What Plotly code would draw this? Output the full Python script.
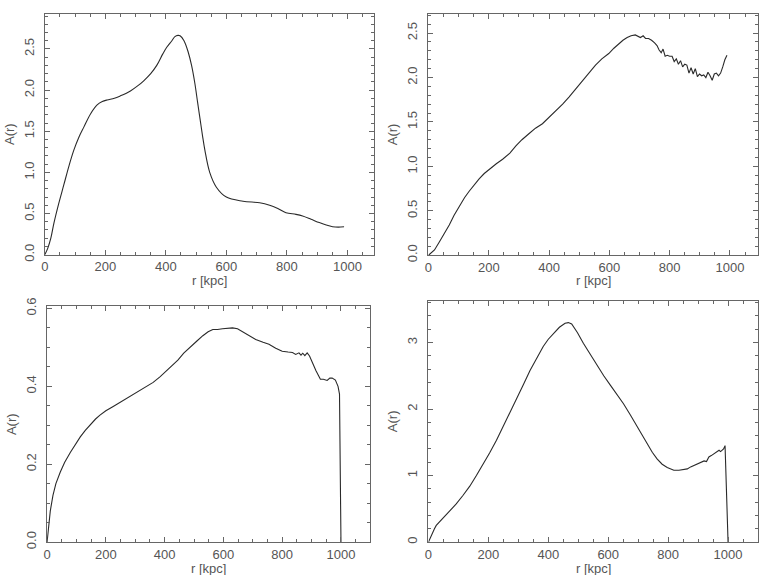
import plotly.graph_objects as go

# Panel 1 (top-left)
r1 = [0, 10, 20, 30, 46, 63, 80, 96, 113, 129, 151, 173, 190, 206, 230, 250, 283, 310, 326, 350,
      370, 390, 403, 420, 430, 440, 447, 460, 474, 485, 496, 505, 513, 521, 529, 545, 567, 600, 655, 710,
      743, 770, 797, 830, 852, 880, 907, 930, 951, 970, 989]
a1 = [0, 0.08, 0.2, 0.38, 0.62, 0.85, 1.08, 1.27, 1.43, 1.55, 1.71, 1.82, 1.86, 1.88, 1.9, 1.93, 1.99, 2.06, 2.11, 2.2,
      2.3, 2.44, 2.52, 2.6, 2.65, 2.665, 2.66, 2.6, 2.46, 2.3, 2.08, 1.85, 1.65, 1.45, 1.27, 1.0, 0.82, 0.7, 0.65, 0.63,
      0.6, 0.56, 0.51, 0.49, 0.47, 0.43, 0.39, 0.36, 0.34, 0.335, 0.34]

# Panel 2 (top-right)
r2 = [0, 20, 36, 50, 69, 85, 102, 120, 135, 150, 168, 185, 202, 225, 246, 270, 290, 310, 334, 355,
      378, 400, 422, 445, 466, 490, 510, 530, 554, 575, 598, 615, 631, 645, 659, 672, 686, 695, 703, 712,
      720, 730, 740, 750, 758, 765, 772, 778, 785, 792, 800, 808, 815, 822, 829, 836, 843, 850, 857, 864,
      871, 878, 885, 892, 899, 906, 913, 920, 927, 934, 941, 948, 955, 962, 969, 976, 983, 990]
a2 = [0, 0.06, 0.15, 0.23, 0.34, 0.45, 0.55, 0.65, 0.72, 0.79, 0.86, 0.92, 0.97, 1.03, 1.08, 1.15, 1.23, 1.30, 1.37, 1.43,
      1.48, 1.55, 1.62, 1.70, 1.78, 1.88, 1.96, 2.05, 2.14, 2.21, 2.27, 2.33, 2.38, 2.42, 2.45, 2.47, 2.48, 2.46, 2.45, 2.47,
      2.44, 2.44, 2.42, 2.39, 2.36, 2.31, 2.28, 2.32, 2.24, 2.25, 2.24, 2.24, 2.18, 2.21, 2.15, 2.19, 2.12, 2.15, 2.14, 2.05,
      2.11, 2.04, 2.10, 2.01, 2.04, 2.02, 2.03, 2.00, 2.06, 2.02, 1.97, 2.04, 2.05, 2.02, 2.05, 2.12, 2.20, 2.25]

# Panel 3 (bottom-left)
r3 = [0, 5, 11, 20, 30, 45, 60, 79, 95, 113, 130, 147, 165, 180, 200, 225, 250, 271, 290, 316,
      340, 361, 385, 406, 425, 445, 465, 485, 508, 530, 548, 564, 580, 597, 615, 631, 648, 665, 690, 710,
      735, 755, 778, 800, 820, 835, 846, 857, 864, 870, 877, 885, 893, 902, 915, 930, 940, 953, 962, 970,
      981, 990, 995, 1000]
a3 = [0, 0.04, 0.08, 0.12, 0.15, 0.18, 0.205, 0.23, 0.25, 0.27, 0.287, 0.302, 0.316, 0.326, 0.337, 0.348, 0.359, 0.369, 0.378, 0.39,
      0.40, 0.41, 0.425, 0.44, 0.452, 0.467, 0.485, 0.50, 0.515, 0.53, 0.54, 0.546, 0.546, 0.548, 0.55, 0.55, 0.548, 0.54, 0.53, 0.52,
      0.513, 0.508, 0.498, 0.49, 0.488, 0.487, 0.482, 0.486, 0.48, 0.485, 0.479, 0.486, 0.478, 0.462, 0.44, 0.418, 0.418, 0.415, 0.421, 0.421,
      0.416, 0.40, 0.38, 0.0]

# Panel 4 (bottom-right)
r4 = [0, 8, 15, 20, 26, 45, 70, 92, 115, 138, 160, 182, 204, 227, 249, 272, 294, 317, 339, 361,
      383, 400, 417, 437, 456, 467, 478, 497, 517, 540, 562, 585, 607, 630, 651, 674, 696, 713, 730, 747,
      763, 780, 797, 808, 819, 836, 853, 864, 875, 886, 897, 908, 920, 928, 936, 944, 953, 961, 970, 975,
      980, 985, 990, 1000]
a4 = [0, 0.09, 0.16, 0.20, 0.25, 0.34, 0.46, 0.57, 0.70, 0.84, 1.00, 1.16, 1.34, 1.53, 1.73, 1.95, 2.16, 2.37, 2.58, 2.77,
      2.94, 3.05, 3.14, 3.23, 3.29, 3.30, 3.28, 3.15, 2.99, 2.82, 2.65, 2.50, 2.36, 2.22, 2.08, 1.91, 1.74, 1.60, 1.47, 1.35,
      1.25, 1.17, 1.12, 1.10, 1.08, 1.08, 1.09, 1.10, 1.13, 1.15, 1.18, 1.19, 1.22, 1.21, 1.28, 1.30, 1.33, 1.36, 1.38, 1.36,
      1.38, 1.40, 1.45, 0.0]

x_title = "r [kpc]"
y_title = "A(r)"

W, H = 762, 575
# pixel boxes: left, right, top, bottom
boxes = [(41, 372, 4.7, 252.7), (426.7, 758, 4.7, 253.3), (43.3, 368.3, 306, 548.3), (426.7, 758, 300, 548.3)]
xranges = [[0, 1088], [0, 1093], [0, 1100], [0, 1100]]
yranges = [[0, 2.93], [0, 2.72], [0, 0.605], [0, 3.63]]
ydt = [(0.5, 0.1, ".1f"), (0.5, 0.1, ".1f"), (0.2, 0.05, ".1f"), (1, 0.2, "d")]
series = [(r1, a1, "spline"), (r2, a2, "linear"), (r3, a3, "linear"), (r4, a4, "linear")]
xtitle_y = [279, 279, 575, 575]  # pixel centre of x-axis titles

AX = "#666666"
FONT = dict(family="Liberation Sans, Arial, sans-serif", size=13, color="#555555")

fig = go.Figure()
layout = dict(width=W, height=H, margin=dict(l=0, r=0, t=0, b=0),
              paper_bgcolor="white", plot_bgcolor="white", showlegend=False, font=FONT)
annotations = []

for i, ((l, r, t, b), (xs, ys, shape)) in enumerate(zip(boxes, series)):
    n = "" if i == 0 else str(i + 1)
    fig.add_trace(go.Scatter(x=xs, y=ys, mode="lines", line=dict(color="#2a2a2a", width=1.1, shape=shape),
                             xaxis="x" + n, yaxis="y" + n, hoverinfo="skip"))
    dt, mdt, fmt = ydt[i]
    layout["xaxis" + n] = dict(
        domain=[l / W, r / W], anchor="y" + n, range=xranges[i], dtick=200, tick0=0,
        showgrid=False, zeroline=False, showline=True, linecolor=AX, linewidth=1, mirror="ticks",
        ticks="inside", ticklen=5, tickcolor=AX, tickfont=FONT,
        minor=dict(dtick=50, tick0=0, ticks="inside", ticklen=3, tickcolor=AX, showgrid=False))
    layout["yaxis" + n] = dict(
        domain=[1 - b / H, 1 - t / H], anchor="x" + n, range=yranges[i], dtick=dt, tick0=0,
        tickformat=fmt, tickangle=-90, ticklabelstandoff=5,
        showgrid=False, zeroline=False, showline=True, linecolor=AX, linewidth=1, mirror="ticks",
        ticks="inside", ticklen=5, tickcolor=AX, tickfont=FONT,
        minor=dict(dtick=mdt, tick0=0, ticks="inside", ticklen=3, tickcolor=AX, showgrid=False),
        title=dict(text=y_title, font=FONT, standoff=4))
    annotations.append(dict(text=x_title, xref="paper", yref="paper", x=(l + r) / 2 / W,
                            y=1 - xtitle_y[i] / H, xanchor="center", yanchor="middle",
                            showarrow=False, font=FONT))

layout["annotations"] = annotations
fig.update_layout(**layout)
fig.write_html("out.html")
